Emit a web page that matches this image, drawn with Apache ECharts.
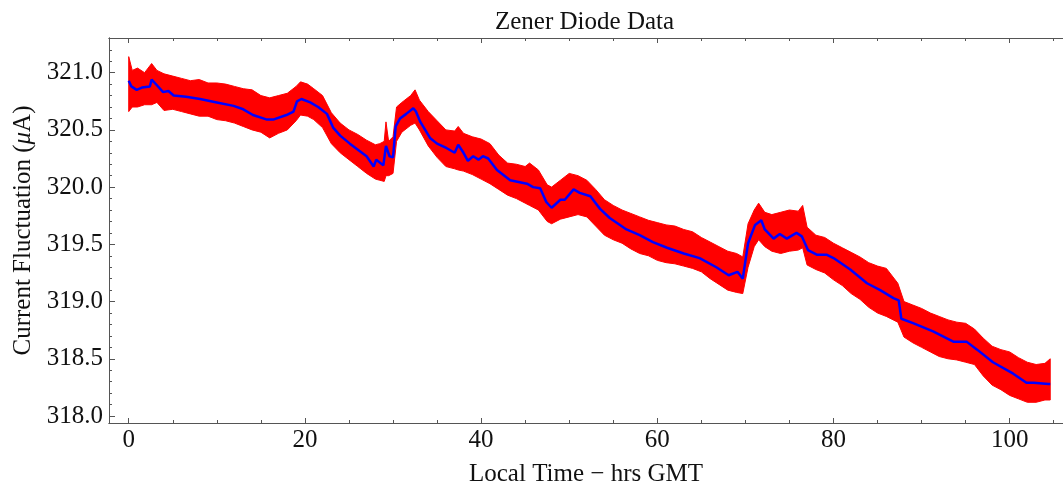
<!DOCTYPE html>
<html>
<head>
<meta charset="utf-8">
<title>Zener Diode Data</title>
<script src="https://cdn.jsdelivr.net/npm/echarts@6/dist/echarts.min.js"></script>
<style>
  html, body { margin: 0; padding: 0; background: #fff; }
  #chart { width: 1063px; height: 491px; }
</style>
</head>
<body>
<div id="chart"></div>
<script>
// Raw measurement spread: upper and lower envelope of the sampled current (µA) vs time (hrs)
const bandTime = [0, 0.4, 1, 1.8, 2.6, 3.2, 4, 5, 6, 7, 8, 9, 10, 11, 12, 13, 14, 15, 16, 17, 18, 19, 19.5, 20.3, 21, 22, 23, 24, 25, 26, 27, 28, 28.5, 29, 29.2, 29.5, 30, 30.4, 31, 32, 32.5, 33, 34, 35, 36, 37, 37.4, 38, 39, 40, 41, 42, 43, 44, 45, 45.5, 46.5, 47.5, 48, 49, 50, 51, 52, 53, 54, 55, 56, 57, 58, 59, 60, 61, 62, 63, 64, 65, 66, 67, 68, 69, 69.7, 70.3, 71, 71.5, 72.2, 73, 74, 75, 76, 76.5, 77, 78, 79, 80, 81, 82, 83, 84, 85, 86, 87.3, 88, 89, 90, 91, 92, 93, 94, 95, 96, 97, 98, 99, 100, 101, 102, 103, 104, 104.6];
const bandUpper = [321.14, 321.02, 321.04, 321.00, 321.08, 321.02, 320.99, 320.97, 320.95, 320.93, 320.94, 320.91, 320.91, 320.90, 320.88, 320.86, 320.85, 320.80, 320.78, 320.80, 320.82, 320.88, 320.92, 320.90, 320.86, 320.80, 320.65, 320.56, 320.50, 320.46, 320.41, 320.37, 320.38, 320.40, 320.57, 320.40, 320.44, 320.70, 320.74, 320.80, 320.85, 320.76, 320.66, 320.58, 320.50, 320.49, 320.53, 320.47, 320.44, 320.42, 320.38, 320.28, 320.21, 320.20, 320.18, 320.21, 320.15, 320.02, 320.00, 320.06, 320.12, 320.10, 320.06, 319.98, 319.89, 319.84, 319.80, 319.77, 319.74, 319.71, 319.69, 319.67, 319.66, 319.63, 319.61, 319.56, 319.52, 319.48, 319.44, 319.42, 319.39, 319.68, 319.80, 319.86, 319.78, 319.76, 319.78, 319.80, 319.79, 319.84, 319.65, 319.58, 319.56, 319.51, 319.47, 319.43, 319.39, 319.34, 319.31, 319.29, 319.16, 319.00, 318.97, 318.94, 318.90, 318.87, 318.84, 318.82, 318.81, 318.76, 318.68, 318.61, 318.58, 318.56, 318.51, 318.47, 318.45, 318.46, 318.50];
const bandLower = [320.66, 320.70, 320.70, 320.72, 320.72, 320.74, 320.67, 320.68, 320.66, 320.64, 320.62, 320.62, 320.59, 320.58, 320.56, 320.53, 320.50, 320.48, 320.43, 320.47, 320.50, 320.58, 320.63, 320.62, 320.59, 320.52, 320.38, 320.30, 320.24, 320.18, 320.12, 320.07, 320.06, 320.05, 320.10, 320.10, 320.12, 320.40, 320.48, 320.54, 320.56, 320.50, 320.36, 320.26, 320.18, 320.16, 320.15, 320.14, 320.11, 320.07, 320.03, 319.98, 319.93, 319.90, 319.86, 319.84, 319.80, 319.70, 319.68, 319.72, 319.74, 319.76, 319.74, 319.66, 319.58, 319.54, 319.51, 319.46, 319.42, 319.40, 319.36, 319.34, 319.33, 319.31, 319.29, 319.26, 319.20, 319.15, 319.10, 319.08, 319.07, 319.30, 319.48, 319.54, 319.48, 319.44, 319.42, 319.44, 319.45, 319.47, 319.32, 319.28, 319.25, 319.19, 319.14, 319.07, 319.02, 318.95, 318.90, 318.87, 318.82, 318.69, 318.64, 318.60, 318.56, 318.52, 318.50, 318.49, 318.47, 318.45, 318.35, 318.27, 318.23, 318.18, 318.15, 318.12, 318.12, 318.14, 318.14];

// Smoothed current (µA) vs time (hrs)
const smoothTime = [0.0, 0.3, 0.9, 1.5, 2.4, 2.6, 3.2, 3.9, 4.5, 5.1, 6.5, 8.1, 10, 11.9, 13, 14.1, 15.7, 16.4, 17.9, 18.7, 19.1, 19.6, 20.6, 21.5, 22.5, 23.2, 24, 25.1, 27, 27.8, 28.1, 28.9, 29.2, 29.6, 30.0, 30.3, 30.8, 31.5, 32.3, 32.6, 33.1, 34.2, 35, 36.1, 37.0, 37.4, 38.0, 38.5, 39.1, 39.7, 40.2, 40.8, 41.8, 43.3, 45.2, 45.9, 46.7, 47.4, 48.0, 49.0, 49.5, 50.5, 51.2, 52.4, 53.5, 54.6, 56.5, 58.0, 59.5, 61.1, 63.0, 64.8, 66.7, 68.1, 69.1, 69.7, 70.3, 71.1, 71.8, 72.2, 73.2, 73.9, 74.7, 75.8, 76.4, 77.1, 78.1, 79.2, 80.0, 81.9, 83.8, 85.3, 86.8, 87.4, 87.7, 89.1, 91.3, 93.6, 95.1, 96.3, 98.1, 100.4, 101.9, 102.7, 104.4, 104.6];
const smoothValue = [320.93, 320.88, 320.85, 320.87, 320.88, 320.94, 320.89, 320.83, 320.84, 320.80, 320.79, 320.77, 320.74, 320.71, 320.68, 320.63, 320.59, 320.59, 320.63, 320.66, 320.75, 320.77, 320.74, 320.70, 320.64, 320.52, 320.45, 320.38, 320.27, 320.18, 320.24, 320.19, 320.36, 320.27, 320.26, 320.53, 320.60, 320.64, 320.69, 320.66, 320.57, 320.43, 320.38, 320.34, 320.30, 320.37, 320.30, 320.23, 320.27, 320.24, 320.27, 320.25, 320.15, 320.06, 320.03, 320.00, 319.99, 319.87, 319.82, 319.89, 319.89, 319.98, 319.95, 319.92, 319.81, 319.73, 319.63, 319.58, 319.52, 319.47, 319.42, 319.38, 319.30, 319.23, 319.26, 319.20, 319.51, 319.67, 319.71, 319.63, 319.55, 319.59, 319.55, 319.60, 319.57, 319.45, 319.41, 319.41, 319.38, 319.28, 319.16, 319.10, 319.03, 319.01, 318.85, 318.81, 318.74, 318.65, 318.65, 318.58, 318.47, 318.37, 318.29, 318.29, 318.28, 318.28];

// Tick positions
const xMajorTicks = [0, 20, 40, 60, 80, 100];
const xMinorTicks = [5, 10, 15, 25, 30, 35, 45, 50, 55, 65, 70, 75, 85, 90, 95, 105];
const yMajorTicks = [318.0, 318.5, 319.0, 319.5, 320.0, 320.5, 321.0];
const yMinorTicks = [318.1, 318.2, 318.3, 318.4, 318.6, 318.7, 318.8, 318.9, 319.1, 319.2, 319.3, 319.4, 319.6, 319.7, 319.8, 319.9, 320.1, 320.2, 320.3, 320.4, 320.6, 320.7, 320.8, 320.9, 321.1, 321.2];

const X_MIN = -2.24, X_MAX = 106.05;
const Y_MIN = 317.939, Y_MAX = 321.303;
const FONT = '"Liberation Serif", "Times New Roman", serif';
const FRAME = '#555555';

const smoothData = smoothTime.map((t, i) => [t, smoothValue[i]]);

function xAxisDef(pos, ticks, len, withLabels) {
  return {
    type: 'value', position: pos, min: X_MIN, max: X_MAX,
    axisLine: { show: true, onZero: false, lineStyle: { color: FRAME, width: 1 } },
    axisTick: { show: true, inside: true, length: len, customValues: ticks, lineStyle: { color: FRAME, width: 1 } },
    axisLabel: withLabels ? {
      show: true, customValues: ticks, fontFamily: FONT, fontSize: 25, color: '#111', margin: 5,
      formatter: v => String(v)
    } : { show: false },
    splitLine: { show: false }
  };
}
function yAxisDef(pos, ticks, len, withLabels) {
  return {
    type: 'value', position: pos, min: Y_MIN, max: Y_MAX,
    axisLine: { show: true, onZero: false, lineStyle: { color: FRAME, width: 1 } },
    axisTick: { show: true, inside: true, length: len, customValues: ticks, lineStyle: { color: FRAME, width: 1 } },
    axisLabel: withLabels ? {
      show: true, customValues: ticks, fontFamily: FONT, fontSize: 25, color: '#111', margin: 6,
      formatter: v => v.toFixed(1)
    } : { show: false },
    splitLine: { show: false }
  };
}

const xMain = xAxisDef('bottom', xMajorTicks, 5, true);
xMain.name = 'Local Time \u2212 hrs GMT';
xMain.nameLocation = 'middle';
xMain.nameGap = 39;
xMain.nameTextStyle = { fontFamily: FONT, fontSize: 25, color: '#111' };

const yMain = yAxisDef('left', yMajorTicks, 6, true);
yMain.name = '{n|Current Fluctuation (}{i|\u03bc}{n|A)}';
yMain.nameLocation = 'middle';
yMain.nameGap = 73;
yMain.nameTextStyle = {
  fontFamily: FONT, fontSize: 25, color: '#111',
  rich: {
    n: { fontFamily: FONT, fontSize: 25, color: '#111' },
    i: { fontFamily: FONT, fontSize: 25, color: '#111', fontStyle: 'italic' }
  }
};

const chart = echarts.init(document.getElementById('chart'), null, { renderer: 'canvas' });
chart.setOption({
  animation: false,
  backgroundColor: '#ffffff',
  title: {
    text: 'Zener Diode Data',
    left: 490, top: 5,
    textStyle: { fontFamily: FONT, fontSize: 25, fontWeight: 'normal', color: '#111' }
  },
  grid: { left: 109, right: 0, top: 38, bottom: 68, containLabel: false, outerBoundsMode: 'none' },
  xAxis: [
    xMain,
    xAxisDef('bottom', xMinorTicks, 3, false),
    xAxisDef('top', xMajorTicks, 5, false),
    xAxisDef('top', xMinorTicks, 3, false)
  ],
  yAxis: [
    yMain,
    yAxisDef('left', yMinorTicks, 3, false)
  ],
  series: [
    {
      type: 'custom',
      name: 'spread',
      xAxisIndex: 0, yAxisIndex: 0,
      clip: true,
      data: [[50, 319.5]],
      renderItem: function (params, api) {
        const pts = [];
        for (let i = 0; i < bandTime.length; i++) pts.push(api.coord([bandTime[i], bandUpper[i]]));
        for (let i = bandTime.length - 1; i >= 0; i--) pts.push(api.coord([bandTime[i], bandLower[i]]));
        return { type: 'polygon', shape: { points: pts }, style: { fill: '#ff0000', stroke: '#ff0000', lineWidth: 1 } };
      },
      z: 2
    },
    {
      type: 'line',
      name: 'smoothed',
      xAxisIndex: 0, yAxisIndex: 0,
      data: smoothData,
      showSymbol: false,
      symbol: 'none',
      lineStyle: { color: '#0000ff', width: 2.5 },
      z: 3
    }
  ]
});
</script>
</body>
</html>
